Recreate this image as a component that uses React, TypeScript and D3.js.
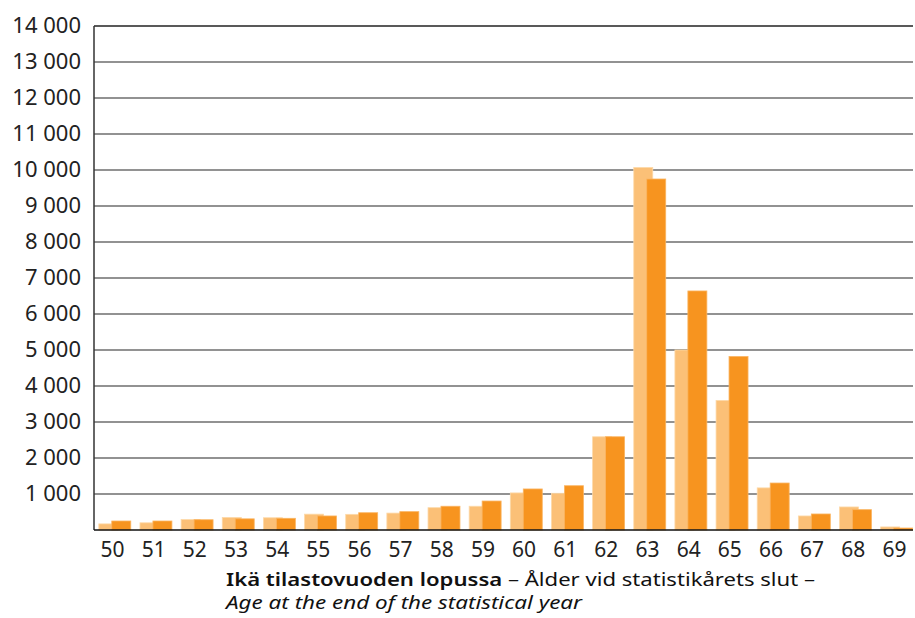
import React from "react";
import * as d3 from "d3";

const ages = ["50","51","52","53","54","55","56","57","58","59","60","61","62","63","64","65","66","67","68","69"];
const seriesA = [170, 200, 290, 350, 340, 440, 435, 470, 620, 660, 1030, 1020, 2590, 10070, 5000, 3600, 1170, 390, 640, 85];
const seriesB = [250, 250, 285, 310, 325, 390, 480, 510, 660, 805, 1140, 1230, 2590, 9750, 6640, 4820, 1305, 445, 565, 55];
const yTicks = [1000,2000,3000,4000,5000,6000,7000,8000,9000,10000,11000,12000,13000,14000];

const W = 915, H = 618;
const left = 94, right = 917, top = 26, bottom = 530;
const font = "'Noto Sans', sans-serif";

export default function App() {
  const x = d3.scaleBand().domain(ages).range([left, right]).padding(0);
  const y = d3.scaleLinear().domain([0, 14000]).range([bottom, top]);
  const bw = x.bandwidth();
  const barW = 19;
  const fmt = (v: number) => d3.format(",")(v).replace(/,/g, " ");
  return (
    <svg width={W} height={H} style={{ position: "absolute", left: 0, top: 0, background: "#fff" }}>
      {yTicks.map((t) => (
        <line key={t} x1={left} x2={913} y1={y(t)} y2={y(t)} stroke={t === 14000 ? "#222" : "#6e6e6e"} strokeWidth={1.3} />
      ))}
      {ages.map((a, i) => {
        const x0 = x(a)!;
        return (
          <g key={a}>
            <rect x={x0 + bw * 0.117} y={y(seriesA[i])} width={barW} height={bottom - y(seriesA[i])} fill="#fbc077" stroke="#fdd9a9" strokeWidth={0.8} />
            <rect x={x0 + bw * 0.432} y={y(seriesB[i])} width={barW} height={bottom - y(seriesB[i])} fill="#f7941f" stroke="#fab563" strokeWidth={0.8} />
          </g>
        );
      })}
      <line x1={left} x2={left} y1={top} y2={bottom} stroke="#333" strokeWidth={1.5} />
      <line x1={left} x2={913} y1={bottom} y2={bottom} stroke="#111" strokeWidth={1.5} />
      {yTicks.map((t) => (
        <text key={t} x={81} y={y(t) + 7} textAnchor="end" fontFamily={font} fontSize={22} fill="#222">{fmt(t)}</text>
      ))}
      {ages.map((a) => (
        <text key={a} x={x(a)! + bw / 2 - 2} y={557} textAnchor="middle" fontFamily={font} fontSize={21} fill="#222">{a}</text>
      ))}
      <text x={226} y={586} fontFamily={font} fontSize={18} fill="#111" textLength={589} lengthAdjust="spacingAndGlyphs">
        <tspan fontWeight={600}>Ikä tilastovuoden lopussa</tspan>
        <tspan> – Ålder vid statistikårets slut –</tspan>
      </text>
      <text x={226} y={609} fontFamily={font} fontSize={18} fontStyle="italic" fill="#111" textLength={356} lengthAdjust="spacingAndGlyphs">Age at the end of the statistical year</text>
    </svg>
  );
}
